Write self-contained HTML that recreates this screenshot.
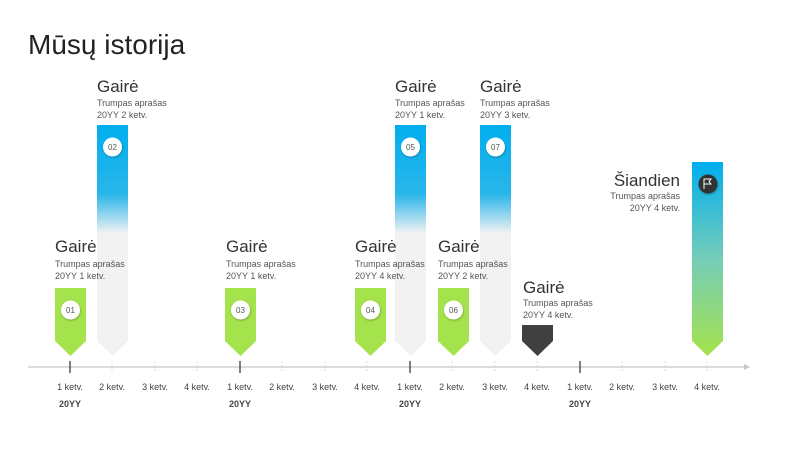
<!DOCTYPE html>
<html><head><meta charset="utf-8"><style>
body{margin:0;background:#fff}
svg{display:block;font-family:"Liberation Sans","DejaVu Sans",sans-serif}
</style></head><body>
<svg width="796" height="450" viewBox="0 0 796 450">
<defs>
<linearGradient id="bg" x1="0" y1="0" x2="0" y2="1">
<stop offset="0" stop-color="#00aeef"/><stop offset="0.3" stop-color="#2ab6ea"/><stop offset="0.47" stop-color="#f2f2f2"/><stop offset="1" stop-color="#f2f2f2"/></linearGradient>
<linearGradient id="tg" x1="0" y1="0" x2="0" y2="1">
<stop offset="0" stop-color="#00aeef"/><stop offset="0.5" stop-color="#74cdb8"/><stop offset="1" stop-color="#a5e34c"/></linearGradient>
<filter id="sh"><feDropShadow dx="0.5" dy="1" stdDeviation="1" flood-opacity="0.3"/></filter>
</defs>
<text x="28" y="54" font-size="28" fill="#222">Mūsų istorija</text>
<line x1="28" y1="367" x2="744" y2="367" stroke="#d0d0d0" stroke-width="1.5"/>
<polygon points="744,364 750,367 744,370" fill="#c8c8c8"/>
<g stroke="#ddd" stroke-dasharray="2,2">
<line x1="112" y1="361" x2="112" y2="373"/><line x1="155" y1="361" x2="155" y2="373"/><line x1="197" y1="361" x2="197" y2="373"/>
<line x1="282" y1="361" x2="282" y2="373"/><line x1="325" y1="361" x2="325" y2="373"/><line x1="367" y1="361" x2="367" y2="373"/>
<line x1="452" y1="361" x2="452" y2="373"/><line x1="495" y1="361" x2="495" y2="373"/><line x1="537" y1="361" x2="537" y2="373"/>
<line x1="622" y1="361" x2="622" y2="373"/><line x1="665" y1="361" x2="665" y2="373"/><line x1="707" y1="361" x2="707" y2="373"/></g>
<g stroke="#555" stroke-width="1.5"><line x1="70" y1="361" x2="70" y2="373"/><line x1="240" y1="361" x2="240" y2="373"/><line x1="410" y1="361" x2="410" y2="373"/><line x1="580" y1="361" x2="580" y2="373"/></g>
<g font-size="9" fill="#444" text-anchor="middle">
<text x="70" y="390">1 ketv.</text><text x="112" y="390">2 ketv.</text><text x="155" y="390">3 ketv.</text><text x="197" y="390">4 ketv.</text>
<text x="240" y="390">1 ketv.</text><text x="282" y="390">2 ketv.</text><text x="325" y="390">3 ketv.</text><text x="367" y="390">4 ketv.</text>
<text x="410" y="390">1 ketv.</text><text x="452" y="390">2 ketv.</text><text x="495" y="390">3 ketv.</text><text x="537" y="390">4 ketv.</text>
<text x="580" y="390">1 ketv.</text><text x="622" y="390">2 ketv.</text><text x="665" y="390">3 ketv.</text><text x="707" y="390">4 ketv.</text>
<g font-weight="bold"><text x="70" y="407">20YY</text><text x="240" y="407">20YY</text><text x="410" y="407">20YY</text><text x="580" y="407">20YY</text></g></g>
<g fill="#a5e34c">
<polygon points="55,288 86,288 86,341 70.5,356 55,341"/>
<polygon points="225,288 256,288 256,341 240.5,356 225,341"/>
<polygon points="355,288 386,288 386,341 370.5,356 355,341"/>
<polygon points="438,288 469,288 469,341 453.5,356 438,341"/></g>
<g fill="url(#bg)">
<polygon points="97,125 128,125 128,341 112.5,356 97,341"/>
<polygon points="395,125 426,125 426,341 410.5,356 395,341"/>
<polygon points="480,125 511,125 511,341 495.5,356 480,341"/></g>
<polygon points="522,325 553,325 553,341 537.5,356 522,341" fill="#404040"/>
<polygon points="692,162 723,162 723,341 707.5,356 692,341" fill="url(#tg)"/>
<g fill="#fff" filter="url(#sh)">
<circle cx="70.5" cy="310" r="9.5"/><circle cx="240.5" cy="310" r="9.5"/><circle cx="370.5" cy="310" r="9.5"/><circle cx="453.5" cy="310" r="9.5"/>
<circle cx="112.5" cy="147" r="9.5"/><circle cx="410.5" cy="147" r="9.5"/><circle cx="495.5" cy="147" r="9.5"/></g>
<circle cx="708" cy="184" r="9.5" fill="#333" filter="url(#sh)"/>
<path d="M704,189 V179 H711 L709,181.5 L711,184 H704" fill="none" stroke="#fff" stroke-width="1"/>
<g font-size="8" fill="#555" text-anchor="middle">
<text x="70.5" y="313">01</text><text x="112.5" y="150">02</text><text x="240.5" y="313">03</text><text x="370.5" y="313">04</text>
<text x="410.5" y="150">05</text><text x="453.5" y="313">06</text><text x="495.5" y="150">07</text></g>
<g fill="#333">
<g font-size="17"><text x="55" y="252">Gairė</text><text x="97" y="92">Gairė</text><text x="226" y="252">Gairė</text><text x="355" y="252">Gairė</text>
<text x="395" y="92">Gairė</text><text x="438" y="252">Gairė</text><text x="480" y="92">Gairė</text><text x="523" y="293">Gairė</text>
<text x="680" y="186" text-anchor="end">Šiandien</text></g>
<g font-size="9" fill="#555">
<text x="55" y="267">Trumpas aprašas</text><text x="55" y="279">20YY 1 ketv.</text>
<text x="97" y="106">Trumpas aprašas</text><text x="97" y="118">20YY 2 ketv.</text>
<text x="226" y="267">Trumpas aprašas</text><text x="226" y="279">20YY 1 ketv.</text>
<text x="355" y="267">Trumpas aprašas</text><text x="355" y="279">20YY 4 ketv.</text>
<text x="395" y="106">Trumpas aprašas</text><text x="395" y="118">20YY 1 ketv.</text>
<text x="438" y="267">Trumpas aprašas</text><text x="438" y="279">20YY 2 ketv.</text>
<text x="480" y="106">Trumpas aprašas</text><text x="480" y="118">20YY 3 ketv.</text>
<text x="523" y="306">Trumpas aprašas</text><text x="523" y="318">20YY 4 ketv.</text>
<text x="680" y="199" text-anchor="end">Trumpas aprašas</text><text x="680" y="211" text-anchor="end">20YY 4 ketv.</text></g></g>
</svg>
</body></html>
